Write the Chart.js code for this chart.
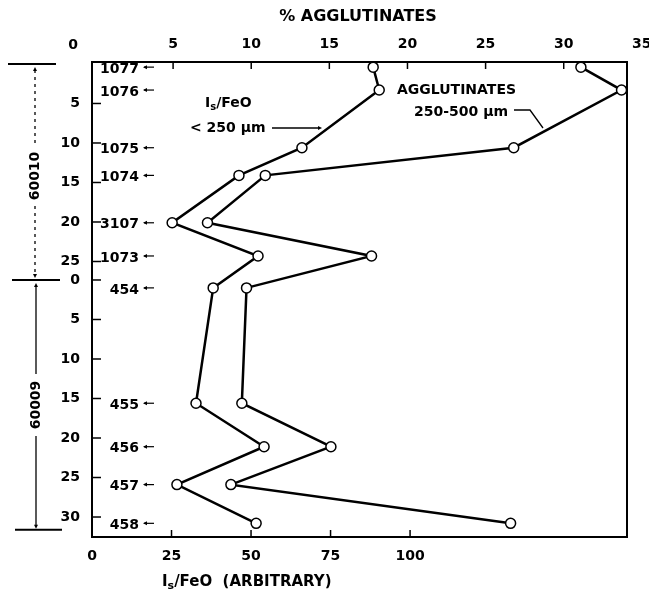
<!DOCTYPE html>
<html>
<head>
<meta charset="utf-8">
<script src="https://cdn.jsdelivr.net/npm/chart.js@4"></script>
<style>
  body { margin: 0; background: #fff; }
  #wrap { width: 649px; height: 599px; }
</style>
</head>
<body>
<div id="wrap"><canvas id="chart"></canvas></div>
<script>
// samples down core 60010 (upper drive tube) and 60009 (lower)
const samples60010 = ["1077", "1076", "1075", "1074", "3107", "1073"];
const depth60010 = [0.4, 3.3, 10.6, 14.1, 20.1, 24.3];
const samples60009 = ["454", "455", "456", "457", "458"];
const depth60009 = [1.0, 15.6, 21.1, 25.9, 30.8];

// values, 60010 samples first then 60009
const isFeO = [88.4, 90.3, 66.0, 46.2, 25.2, 52.2, 38.1, 32.7, 54.1, 26.7, 51.6];
const agglutinates = [31.1, 33.7, 26.8, 10.9, 7.2, 17.7, 9.7, 9.4, 15.1, 8.7, 26.6];

// tick labels
const isFeOTicks = [0, 25, 50, 75, 100];
const aggTicks = [0, 5, 10, 15, 20, 25, 30, 35];
const depthTicks60010 = [5, 10, 15, 20, 25];
const depthTicks60009 = [0, 5, 10, 15, 20, 25, 30];

const offset60009 = 27.34; // where 60009 starts on the stacked depth scale

const allDepths = depth60010.concat(depth60009.map(d => d + offset60009));
const allSamples = samples60010.concat(samples60009);
const yTicks = depthTicks60010.map(v => ({ value: v, label: String(v) }))
  .concat(depthTicks60009.map(v => ({ value: v + offset60009, label: String(v) })));

const FONT = "DejaVu Sans";

const ds = (vals, axis) => ({
  data: vals.map((v, i) => ({ x: v, y: allDepths[i] })),
  xAxisID: axis,
  yAxisID: "y",
  showLine: true,
  borderColor: "#000",
  borderWidth: 2.5,
  pointRadius: 5,
  pointBorderWidth: 1.5,
  pointBackgroundColor: "#fff",
  pointBorderColor: "#000",
});

function text(ctx, str, x, y, size, align) {
  ctx.font = `bold ${size}px ${FONT}`;
  ctx.textAlign = align || "left";
  ctx.textBaseline = "middle";
  ctx.fillText(str, x, y);
}

// "Is/FeO" with the s lowered
function isFeOText(ctx, x, y, size, rest) {
  ctx.font = `bold ${size}px ${FONT}`;
  ctx.textAlign = "left";
  ctx.textBaseline = "middle";
  ctx.fillText("I", x, y);
  let w = ctx.measureText("I").width;
  ctx.font = `bold ${size - 4}px ${FONT}`;
  ctx.fillText("s", x + w, y + 4);
  w += ctx.measureText("s").width;
  ctx.font = `bold ${size}px ${FONT}`;
  ctx.fillText(rest, x + w, y);
}

function arrowHead(ctx, x, y, dir) {
  ctx.beginPath();
  const s = 4;
  if (dir === "left") { ctx.moveTo(x, y); ctx.lineTo(x + s, y - s / 2); ctx.lineTo(x + s, y + s / 2); }
  if (dir === "right") { ctx.moveTo(x, y); ctx.lineTo(x - s, y - s / 2); ctx.lineTo(x - s, y + s / 2); }
  if (dir === "down") { ctx.moveTo(x, y); ctx.lineTo(x - s / 2, y - s); ctx.lineTo(x + s / 2, y - s); }
  if (dir === "up") { ctx.moveTo(x, y); ctx.lineTo(x - s / 2, y + s); ctx.lineTo(x + s / 2, y + s); }
  ctx.closePath();
  ctx.fill();
}

function line(ctx, x1, y1, x2, y2, w) {
  ctx.lineWidth = w || 1.5;
  ctx.beginPath();
  ctx.moveTo(x1, y1);
  ctx.lineTo(x2, y2);
  ctx.stroke();
}

const decor = {
  id: "decor",
  afterDraw(chart) {
    const { ctx, chartArea: a, scales } = chart;
    ctx.save();
    ctx.strokeStyle = "#000";
    ctx.fillStyle = "#000";

    // frame
    ctx.lineWidth = 2;
    ctx.strokeRect(a.left, a.top, a.right - a.left, a.bottom - a.top);

    // inward tick marks
    ctx.lineWidth = 1.5;
    isFeOTicks.slice(1).forEach(v => {
      const px = scales.x.getPixelForValue(v);
      line(ctx, px, a.bottom, px, a.bottom - 7);
    });
    aggTicks.slice(1, -1).forEach(v => {
      const px = scales.x2.getPixelForValue(v);
      line(ctx, px, a.top, px, a.top + 7);
    });
    yTicks.forEach(t => {
      const py = scales.y.getPixelForValue(t.value);
      line(ctx, a.left, py, a.left + 9, py);
    });

    // the top "0" sits left of the frame in the original
    text(ctx, String(aggTicks[0]), 73, 45, 14, "center");

    // sample numbers with small arrows
    allSamples.forEach((s, i) => {
      const py = scales.y.getPixelForValue(allDepths[i]) + 2;
      text(ctx, s, 139, py, 14, "right");
      line(ctx, 144, py - 2, 154, py - 2, 1.2);
      arrowHead(ctx, 143, py - 2, "left");
    });

    // curve labels
    isFeOText(ctx, 205, 103, 14, "/FeO");
    text(ctx, "< 250 \u00b5m", 190, 128, 14);
    line(ctx, 272, 128, 320, 128, 1.3);
    arrowHead(ctx, 322, 128, "right");

    text(ctx, "AGGLUTINATES", 397, 90, 14);
    text(ctx, "250-500 \u00b5m", 414, 112, 14);
    ctx.lineWidth = 1.3;
    ctx.beginPath();
    ctx.moveTo(514, 110);
    ctx.lineTo(530, 110);
    ctx.lineTo(543, 128);
    ctx.stroke();

    // titles
    text(ctx, "% AGGLUTINATES", 358, 17, 16, "center");
    isFeOText(ctx, 162, 582, 15, "/FeO  (ARBITRARY)");

    // core brackets on the left
    const yTop = scales.y.getPixelForValue(0);
    const yJoin = scales.y.getPixelForValue(offset60009);
    const yEnd = scales.y.getPixelForValue(offset60009 + 31.6);
    line(ctx, 8, yTop, 56, yTop, 2);
    line(ctx, 12, yJoin, 60, yJoin, 2);
    line(ctx, 15, yEnd, 62, yEnd, 2);

    ctx.setLineDash([3, 4]);
    line(ctx, 35, yTop + 6, 35, 146, 1.3);
    line(ctx, 35, 206, 35, yJoin - 6, 1.3);
    ctx.setLineDash([]);
    arrowHead(ctx, 35, yTop + 3, "up");
    arrowHead(ctx, 35, yJoin - 2, "down");

    line(ctx, 36, yJoin + 6, 36, 374, 1.3);
    line(ctx, 36, 436, 36, yEnd - 4, 1.3);
    arrowHead(ctx, 36, yJoin + 3, "up");
    arrowHead(ctx, 36, yEnd - 1, "down");

    [["60010", 35, 176], ["60009", 36, 405]].forEach(([t, x, y]) => {
      ctx.save();
      ctx.translate(x, y);
      ctx.rotate(-Math.PI / 2);
      text(ctx, t, 0, 0, 14, "center");
      ctx.restore();
    });

    ctx.restore();
  }
};

const noSidePad = s => { s.height = 62; s.paddingLeft = 0; s.paddingRight = 0; };

new Chart(document.getElementById("chart"), {
  type: "scatter",
  data: {
    datasets: [ds(isFeO, "x"), ds(agglutinates, "x2")],
  },
  options: {
    responsive: true,
    maintainAspectRatio: false,
    animation: false,
    layout: { padding: { left: 0, right: 22, top: 0, bottom: 0 } },
    plugins: {
      legend: { display: false },
      tooltip: { enabled: false },
    },
    scales: {
      x: {
        position: "bottom",
        min: 0,
        max: 168.2,
        afterBuildTicks: s => { s.ticks = isFeOTicks.map(v => ({ value: v })); },
        afterFit: noSidePad,
        ticks: { color: "#000", padding: 11, maxRotation: 0, font: { family: FONT, weight: "bold", size: 14 } },
        grid: { display: false, drawTicks: false },
        border: { display: false },
      },
      x2: {
        position: "top",
        min: -0.19,
        max: 34.05,
        afterBuildTicks: s => { s.ticks = aggTicks.map(v => ({ value: v })); },
        afterFit: noSidePad,
        ticks: {
          color: "#000",
          padding: 9,
          maxRotation: 0,
          font: { family: FONT, weight: "bold", size: 14 },
          callback: v => (v === aggTicks[0] ? "" : String(v)),
        },
        grid: { display: false, drawTicks: false },
        border: { display: false },
      },
      y: {
        reverse: true,
        min: -0.25,
        max: 59.87,
        afterBuildTicks: s => { s.ticks = yTicks.map(t => ({ value: t.value })); },
        afterFit: s => { s.width = 92; },
        ticks: {
          color: "#000",
          padding: 12,
          font: { family: FONT, weight: "bold", size: 14 },
          callback: (v) => {
            const t = yTicks.find(t => Math.abs(t.value - v) < 1e-6);
            return t ? t.label : "";
          },
        },
        grid: { display: false, drawTicks: false },
        border: { display: false },
      },
    },
  },
  plugins: [decor],
});
</script>
</body>
</html>
